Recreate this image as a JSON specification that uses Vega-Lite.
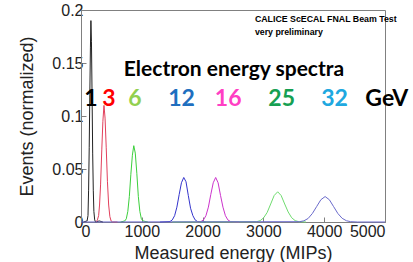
{
  "$schema": "https://vega.github.io/schema/vega-lite/v6.json",
  "width": 304,
  "height": 212,
  "autosize": "none",
  "padding": {"left": 81, "top": 10, "right": 28, "bottom": 40},
  "background": "white",
  "config": {"view": {"stroke": "#808080", "strokeWidth": 1}, "font": "Liberation Sans"},
  "datasets": {
    "curves": [
      {"s": "1", "x": 40, "y": 0}, {"s": "1", "x": 100, "y": 0.001}, {"s": "1", "x": 115, "y": 0.006}, {"s": "1", "x": 125, "y": 0.03}, {"s": "1", "x": 135, "y": 0.07}, {"s": "1", "x": 145, "y": 0.12}, {"s": "1", "x": 155, "y": 0.165}, {"s": "1", "x": 163, "y": 0.19}, {"s": "1", "x": 172, "y": 0.17}, {"s": "1", "x": 182, "y": 0.12}, {"s": "1", "x": 192, "y": 0.065}, {"s": "1", "x": 202, "y": 0.03}, {"s": "1", "x": 212, "y": 0.01}, {"s": "1", "x": 225, "y": 0.002}, {"s": "1", "x": 240, "y": 0}, {"s": "1", "x": 300, "y": 0.001}, {"s": "1", "x": 360, "y": 0},
      {"s": "3", "x": 250, "y": 0}, {"s": "3", "x": 270, "y": 0.002}, {"s": "3", "x": 290, "y": 0.006}, {"s": "3", "x": 305, "y": 0.016}, {"s": "3", "x": 322, "y": 0.035}, {"s": "3", "x": 342, "y": 0.068}, {"s": "3", "x": 360, "y": 0.095}, {"s": "3", "x": 378, "y": 0.11}, {"s": "3", "x": 396, "y": 0.098}, {"s": "3", "x": 415, "y": 0.07}, {"s": "3", "x": 435, "y": 0.038}, {"s": "3", "x": 455, "y": 0.016}, {"s": "3", "x": 475, "y": 0.005}, {"s": "3", "x": 495, "y": 0.001}, {"s": "3", "x": 520, "y": 0}, {"s": "3", "x": 600, "y": 0},
      {"s": "6", "x": 650, "y": 0}, {"s": "6", "x": 720, "y": 0.001}, {"s": "6", "x": 745, "y": 0.003}, {"s": "6", "x": 770, "y": 0.01}, {"s": "6", "x": 795, "y": 0.024}, {"s": "6", "x": 820, "y": 0.045}, {"s": "6", "x": 845, "y": 0.063}, {"s": "6", "x": 868, "y": 0.072}, {"s": "6", "x": 893, "y": 0.065}, {"s": "6", "x": 918, "y": 0.046}, {"s": "6", "x": 943, "y": 0.024}, {"s": "6", "x": 968, "y": 0.01}, {"s": "6", "x": 993, "y": 0.003}, {"s": "6", "x": 1020, "y": 0.001}, {"s": "6", "x": 1100, "y": 0},
      {"s": "12", "x": 1300, "y": 0}, {"s": "12", "x": 1465, "y": 0.0005}, {"s": "12", "x": 1502, "y": 0.002}, {"s": "12", "x": 1540, "y": 0.006}, {"s": "12", "x": 1577, "y": 0.014}, {"s": "12", "x": 1615, "y": 0.026}, {"s": "12", "x": 1652, "y": 0.037}, {"s": "12", "x": 1690, "y": 0.042}, {"s": "12", "x": 1727, "y": 0.038}, {"s": "12", "x": 1765, "y": 0.025}, {"s": "12", "x": 1802, "y": 0.013}, {"s": "12", "x": 1840, "y": 0.006}, {"s": "12", "x": 1877, "y": 0.002}, {"s": "12", "x": 1915, "y": 0.0005}, {"s": "12", "x": 2050, "y": 0},
      {"s": "16", "x": 1900, "y": 0}, {"s": "16", "x": 1975, "y": 0.0005}, {"s": "16", "x": 2015, "y": 0.002}, {"s": "16", "x": 2055, "y": 0.006}, {"s": "16", "x": 2095, "y": 0.014}, {"s": "16", "x": 2135, "y": 0.026}, {"s": "16", "x": 2175, "y": 0.037}, {"s": "16", "x": 2215, "y": 0.042}, {"s": "16", "x": 2255, "y": 0.037}, {"s": "16", "x": 2295, "y": 0.025}, {"s": "16", "x": 2335, "y": 0.014}, {"s": "16", "x": 2375, "y": 0.006}, {"s": "16", "x": 2415, "y": 0.002}, {"s": "16", "x": 2455, "y": 0.0005}, {"s": "16", "x": 2600, "y": 0},
      {"s": "25", "x": 1500, "y": 0}, {"s": "25", "x": 2890, "y": 0.0003}, {"s": "25", "x": 2947, "y": 0.0013}, {"s": "25", "x": 3005, "y": 0.004}, {"s": "25", "x": 3062, "y": 0.009}, {"s": "25", "x": 3120, "y": 0.017}, {"s": "25", "x": 3177, "y": 0.025}, {"s": "25", "x": 3235, "y": 0.0285}, {"s": "25", "x": 3292, "y": 0.025}, {"s": "25", "x": 3350, "y": 0.017}, {"s": "25", "x": 3407, "y": 0.0095}, {"s": "25", "x": 3465, "y": 0.004}, {"s": "25", "x": 3522, "y": 0.0013}, {"s": "25", "x": 3580, "y": 0.0003}, {"s": "25", "x": 3700, "y": 0},
      {"s": "32", "x": 0, "y": 0}, {"s": "32", "x": 3595, "y": 0.0003}, {"s": "32", "x": 3665, "y": 0.0011}, {"s": "32", "x": 3735, "y": 0.0033}, {"s": "32", "x": 3805, "y": 0.008}, {"s": "32", "x": 3875, "y": 0.0145}, {"s": "32", "x": 3945, "y": 0.021}, {"s": "32", "x": 4015, "y": 0.024}, {"s": "32", "x": 4085, "y": 0.021}, {"s": "32", "x": 4155, "y": 0.0145}, {"s": "32", "x": 4225, "y": 0.008}, {"s": "32", "x": 4295, "y": 0.0035}, {"s": "32", "x": 4365, "y": 0.0012}, {"s": "32", "x": 4435, "y": 0.0003}, {"s": "32", "x": 4550, "y": 0}, {"s": "32", "x": 5000, "y": 0}
    ],
    "labels": [
      {"t": "1", "x": 165, "y": 0.116},
      {"t": "3", "x": 460, "y": 0.116},
      {"t": "6", "x": 888, "y": 0.116},
      {"t": "12", "x": 1655, "y": 0.116},
      {"t": "16", "x": 2420, "y": 0.116},
      {"t": "25", "x": 3300, "y": 0.116},
      {"t": "32", "x": 4170, "y": 0.116},
      {"t": "GeV", "x": 5030, "y": 0.116}
    ],
    "headline": [
      {"t": "Electron energy spectra", "x": 2516, "y": 0.1435}
    ],
    "notes": [
      {"t": "CALICE ScECAL FNAL Beam Test", "x": 2860, "y": 0.1915},
      {"t": "very preliminary", "x": 2860, "y": 0.1795}
    ]
  },
  "layer": [
    {
      "data": {"name": "curves"},
      "mark": {"type": "line", "strokeWidth": 1},
      "encoding": {
        "x": {"field": "x", "type": "quantitative", "scale": {"domain": [0, 5000], "nice": false},
          "axis": {"title": "Measured energy (MIPs)", "values": [0, 1000, 2000, 3000, 4000, 5000], "format": "d", "tickSize": -5, "labelFontSize": 16, "titleFontSize": 18, "titleFontWeight": "normal", "labelColor": "#222", "titleColor": "#222", "domainColor": "#808080", "tickColor": "#808080", "grid": false, "labelPadding": 6, "titlePadding": 5}},
        "y": {"field": "y", "type": "quantitative", "scale": {"domain": [0, 0.2], "nice": false},
          "axis": {"title": "Events (normalized)", "values": [0, 0.05, 0.1, 0.15, 0.2], "format": "~g", "tickSize": -5, "labelFontSize": 16, "titleFontSize": 18, "titleFontWeight": "normal", "labelColor": "#222", "titleColor": "#222", "domainColor": "#808080", "tickColor": "#808080", "grid": false, "labelPadding": 3, "titlePadding": 15}},
        "color": {"field": "s", "type": "nominal", "legend": null,
          "scale": {"domain": ["1", "3", "6", "12", "16", "25", "32"], "range": ["#222222", "#e2405c", "#3ccf3c", "#3434cc", "#cc33cc", "#6fdc6f", "#6a6acb"]}}
      }
    },
    {
      "data": {"name": "labels"},
      "mark": {"type": "text", "font": "Lato", "fontWeight": "bold", "fontSize": 23, "align": "center", "baseline": "middle"},
      "encoding": {
        "x": {"field": "x", "type": "quantitative"},
        "y": {"field": "y", "type": "quantitative"},
        "text": {"field": "t"},
        "color": {"field": "t", "type": "nominal", "legend": null,
          "scale": {"domain": ["1", "3", "6", "12", "16", "25", "32", "GeV"], "range": ["#000000", "#ff0000", "#92d050", "#1f6fbf", "#ff3fc4", "#16a052", "#20a8e0", "#000000"]}}
      }
    },
    {
      "data": {"name": "headline"},
      "mark": {"type": "text", "font": "Lato", "fontWeight": "bold", "fontSize": 21, "align": "center", "baseline": "middle", "color": "#000"},
      "encoding": {
        "x": {"field": "x", "type": "quantitative"},
        "y": {"field": "y", "type": "quantitative"},
        "text": {"field": "t"}
      }
    },
    {
      "data": {"name": "notes"},
      "mark": {"type": "text", "font": "Liberation Sans", "fontWeight": "bold", "fontSize": 8.8, "align": "left", "baseline": "middle", "color": "#000"},
      "encoding": {
        "x": {"field": "x", "type": "quantitative"},
        "y": {"field": "y", "type": "quantitative"},
        "text": {"field": "t"}
      }
    }
  ],
  "resolve": {"scale": {"color": "independent"}}
}
